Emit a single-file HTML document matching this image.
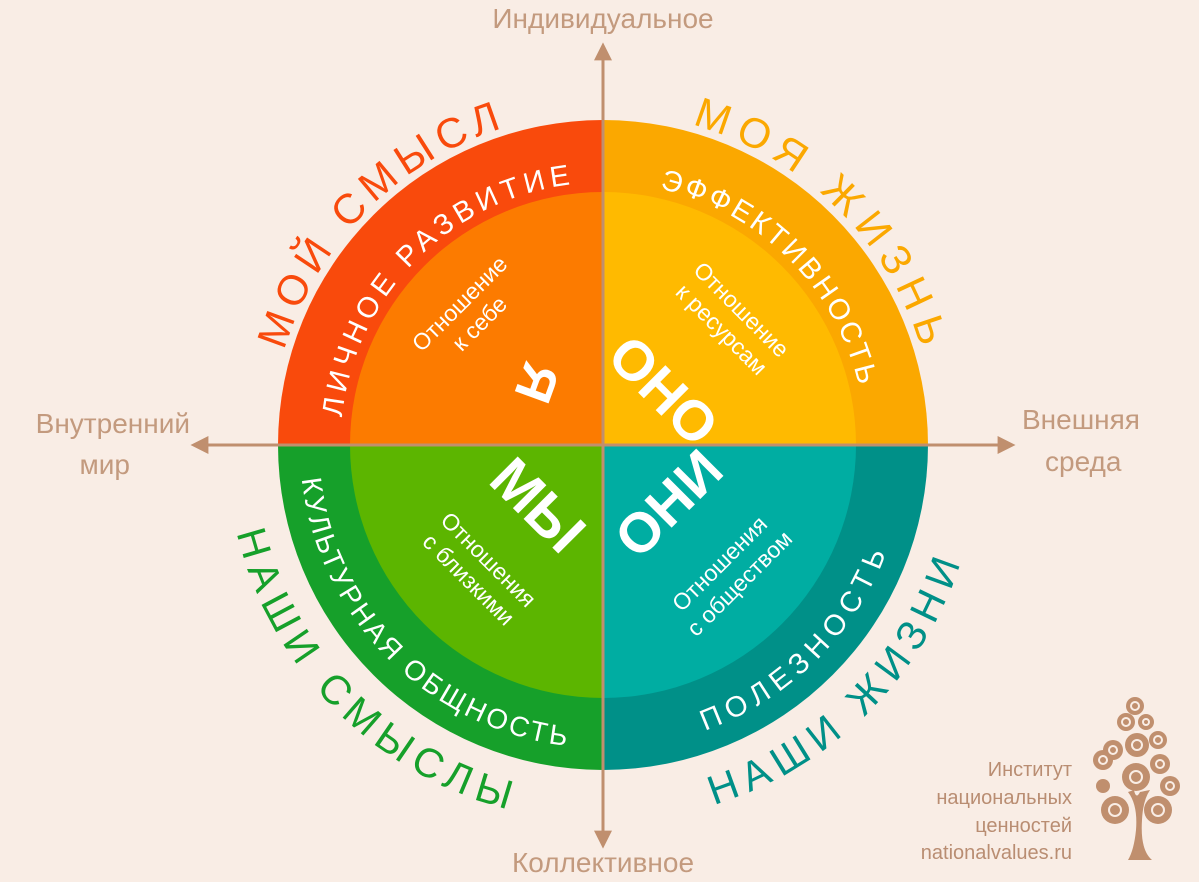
<!DOCTYPE html>
<html><head><meta charset="utf-8"><style>
html,body{margin:0;padding:0;background:#f9ede5;}
svg{display:block;font-family:"Liberation Sans","DejaVu Sans",sans-serif;}
</style></head><body>
<svg width="1199" height="882" viewBox="0 0 1199 882" xmlns="http://www.w3.org/2000/svg">
<rect width="1199" height="882" fill="#f9ede5"/>
<defs>
<path id="tl332" d="M348.7,658.5 A332,332 0 0 1 816.5,190.7"/>
<path id="tr332" d="M389.5,190.7 A332,332 0 0 1 857.3,658.5"/>
<path id="tl262" d="M402.3,613.5 A262,262 0 0 1 771.5,244.3"/>
<path id="tr262" d="M434.5,244.3 A262,262 0 0 1 803.7,613.5"/>
<path id="bl303" d="M370.9,250.2 A303,303 0 0 0 797.8,677.1"/>
<path id="br303" d="M408.2,677.1 A303,303 0 0 0 835.1,250.2"/>
<path id="bl376" d="M315,203.2 A376,376 0 0 0 844.8,733"/>
<path id="br376" d="M361.2,733 A376,376 0 0 0 891,203.2"/>
<marker id="ar" viewBox="0 0 10 10" refX="8" refY="5" markerWidth="6" markerHeight="6" orient="auto-start-reverse"><path d="M0,0 L10,5 L0,10 z" fill="#c08f6e"/></marker>
</defs>
<path d="M603,445 L278,445 A325,325 0 0 1 603,120 Z" fill="#f94a0c"/>
<path d="M603,445 L603,120 A325,325 0 0 1 928,445 Z" fill="#fba800"/>
<path d="M603,445 L928,445 A325,325 0 0 1 603,770 Z" fill="#009088"/>
<path d="M603,445 L603,770 A325,325 0 0 1 278,445 Z" fill="#16a02a"/>
<path d="M603,445 L350,445 A253,253 0 0 1 603,192 Z" fill="#fc7b00"/>
<path d="M603,445 L603,192 A253,253 0 0 1 856,445 Z" fill="#ffba00"/>
<path d="M603,445 L856,445 A253,253 0 0 1 603,698 Z" fill="#00ada2"/>
<path d="M603,445 L603,698 A253,253 0 0 1 350,445 Z" fill="#5cb500"/>
<line x1="603" y1="845" x2="603" y2="46" stroke="#c08f6e" stroke-width="3" marker-end="url(#ar)" marker-start="url(#ar)"/>
<line x1="194" y1="445" x2="1012" y2="445" stroke="#c08f6e" stroke-width="3" marker-end="url(#ar)" marker-start="url(#ar)"/>
<g fill="#c39a7e" font-size="28">
<text x="603" y="28" text-anchor="middle">Индивидуальное</text>
<text x="603" y="872" text-anchor="middle">Коллективное</text>
<text x="190" y="433" text-anchor="end">Внутренний</text>
<text x="130" y="474" text-anchor="end">мир</text>
<text x="1022" y="429">Внешняя</text>
<text x="1045" y="471">среда</text>
</g>
<text font-size="42" fill="#f94a0c" letter-spacing="7"><textPath href="#tl332" startOffset="50%" text-anchor="middle">МОЙ СМЫСЛ</textPath></text>
<text font-size="42" fill="#fba800" letter-spacing="9"><textPath href="#tr332" startOffset="50%" text-anchor="middle">МОЯ ЖИЗНЬ</textPath></text>
<text font-size="29" fill="#fff" letter-spacing="5"><textPath href="#tl262" startOffset="50%" text-anchor="middle">ЛИЧНОЕ РАЗВИТИЕ</textPath></text>
<text font-size="29" fill="#fff" letter-spacing="3"><textPath href="#tr262" startOffset="50%" text-anchor="middle">ЭФФЕКТИВНОСТЬ</textPath></text>
<text font-size="28" fill="#fff" letter-spacing="3"><textPath href="#bl303" startOffset="50%" text-anchor="middle">КУЛЬТУРНАЯ ОБЩНОСТЬ</textPath></text>
<text font-size="29" fill="#fff" letter-spacing="7"><textPath href="#br303" startOffset="50%" text-anchor="middle">ПОЛЕЗНОСТЬ</textPath></text>
<text font-size="41" fill="#16a02a" letter-spacing="8"><textPath href="#bl376" startOffset="50%" text-anchor="middle">НАШИ СМЫСЛЫ</textPath></text>
<text font-size="41" fill="#009088" letter-spacing="8"><textPath href="#br376" startOffset="50%" text-anchor="middle">НАШИ ЖИЗНИ</textPath></text>
<g fill="#fff" font-size="23" text-anchor="middle">
<g transform="translate(468,312) rotate(-45)"><text y="-4">Отношение</text><text y="24">к себе</text></g>
<g transform="translate(733,318) rotate(45)"><text y="-4">Отношение</text><text y="24">к ресурсам</text></g>
<g transform="translate(480,568) rotate(45)"><text y="-4">Отношения</text><text y="24">с близкими</text></g>
<g transform="translate(728,572) rotate(-45)"><text y="-4">Отношения</text><text y="24">с обществом</text></g>
</g>
<g fill="#fff" font-weight="bold" text-anchor="middle">
<text transform="translate(537,383) rotate(110)" font-size="52" dy="18">Я</text>
<text transform="translate(664,390) rotate(45)" font-size="56" dy="20">ОНО</text>
<text transform="translate(538,505) rotate(45)" font-size="58" dy="20">МЫ</text>
<text transform="translate(668,503) rotate(-45)" font-size="56" dy="20">ОНИ</text>
</g>
<g fill="#b98d72" font-size="20" text-anchor="end">
<text x="1072" y="776">Институт</text>
<text x="1072" y="804">национальных</text>
<text x="1072" y="832">ценностей</text>
<text x="1072" y="859">nationalvalues.ru</text>
</g>
<g fill="#c08f6e">
<path d="M1128,860 L1152,860 Q1140,850 1142,820 Q1143,800 1150,790 L1140,792 Q1136,800 1134,790 L1128,792 Q1138,805 1136,830 Q1134,850 1128,860 Z"/>
<circle cx="1135" cy="706" r="9"/><circle cx="1126" cy="722" r="9"/><circle cx="1146" cy="722" r="8"/>
<circle cx="1137" cy="745" r="12"/><circle cx="1113" cy="750" r="10"/><circle cx="1158" cy="740" r="9"/>
<circle cx="1103" cy="760" r="10"/><circle cx="1136" cy="777" r="14"/><circle cx="1160" cy="764" r="10"/>
<circle cx="1170" cy="786" r="10"/><circle cx="1103" cy="786" r="7"/><circle cx="1115" cy="810" r="14"/><circle cx="1158" cy="810" r="14"/>
</g>
<g fill="none" stroke="#f9ede5" stroke-width="2">
<circle cx="1137" cy="745" r="5"/><circle cx="1136" cy="777" r="6"/><circle cx="1115" cy="810" r="6"/><circle cx="1158" cy="810" r="6"/>
<circle cx="1113" cy="750" r="4"/><circle cx="1103" cy="760" r="4"/><circle cx="1160" cy="764" r="4"/><circle cx="1170" cy="786" r="4"/>
<circle cx="1135" cy="706" r="4"/><circle cx="1126" cy="722" r="4"/><circle cx="1146" cy="722" r="3"/><circle cx="1158" cy="740" r="4"/>
</g>
</svg>
</body></html>
